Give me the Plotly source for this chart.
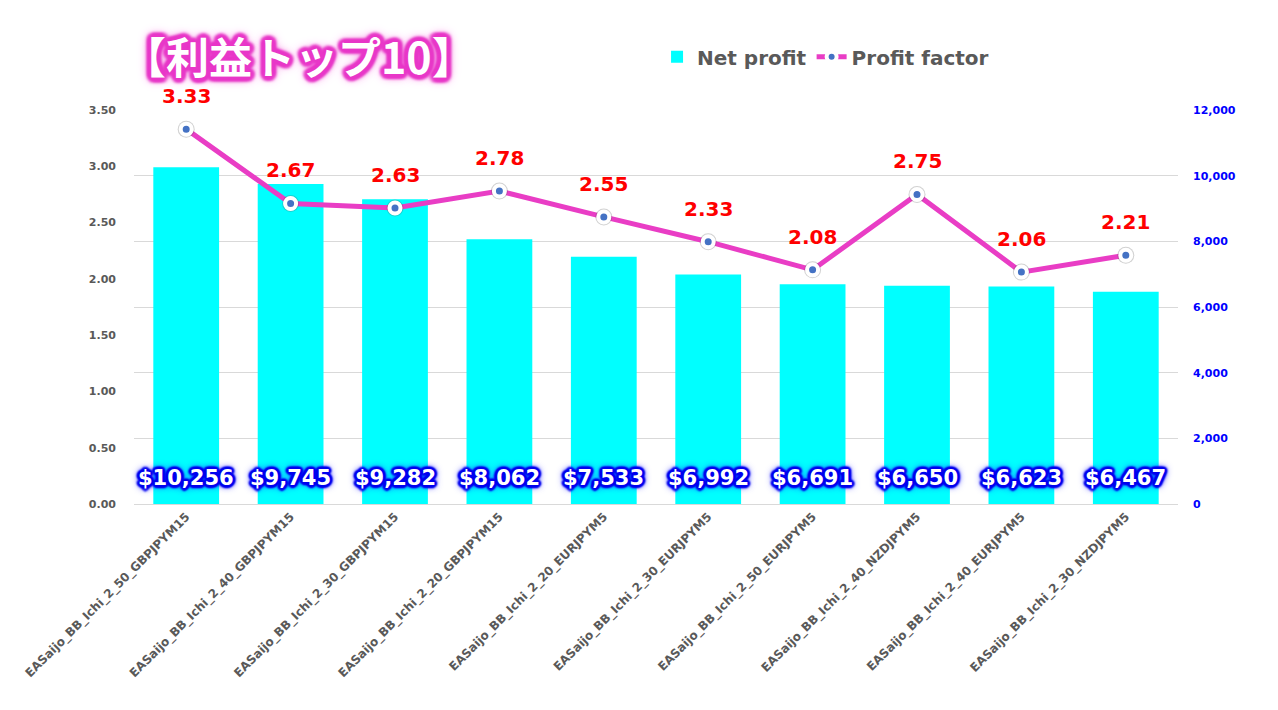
import math
import plotly.graph_objects as go

categories = [
    "EASaijo_BB_Ichi_2_50_GBPJPYM15",
    "EASaijo_BB_Ichi_2_40_GBPJPYM15",
    "EASaijo_BB_Ichi_2_30_GBPJPYM15",
    "EASaijo_BB_Ichi_2_20_GBPJPYM15",
    "EASaijo_BB_Ichi_2_20_EURJPYM5",
    "EASaijo_BB_Ichi_2_30_EURJPYM5",
    "EASaijo_BB_Ichi_2_50_EURJPYM5",
    "EASaijo_BB_Ichi_2_40_NZDJPYM5",
    "EASaijo_BB_Ichi_2_40_EURJPYM5",
    "EASaijo_BB_Ichi_2_30_NZDJPYM5",
]
net_profit = [10256, 9745, 9282, 8062, 7533, 6992, 6691, 6650, 6623, 6467]
profit_factor = [3.33, 2.67, 2.63, 2.78, 2.55, 2.33, 2.08, 2.75, 2.06, 2.21]

left_ticks = [0, 0.5, 1.0, 1.5, 2.0, 2.5, 3.0, 3.5]
right_ticks = [0, 2000, 4000, 6000, 8000, 10000, 12000]

FONT = "DejaVu Sans"
GRAY = "#595959"
PINK = "#E93DC5"


def glow(color, radius, blur, extra):
    parts = []
    for k in range(12):
        a = 2 * math.pi * k / 12
        parts.append(f"{radius*math.cos(a):.1f}px {radius*math.sin(a):.1f}px {blur}px {color}")
    parts += extra
    return ", ".join(parts)


blue_glow = glow("#0000ee", 2.5, 2, ["0 0 5px #0000ff", "0 0 7px #2222ff", "0 0 9px #5555ff"])
pink_glow = glow("#e838c8", 4, 3, ["0 0 7px #e838c8", "0 0 10px #ea48cc", "0 0 14px #f080e0"])

fig = go.Figure()
fig.add_trace(go.Bar(
    x=categories, y=net_profit, name="Net profit",
    marker=dict(color="#00FFFF", line=dict(width=0)),
    yaxis="y", hoverinfo="skip",
))
fig.add_trace(go.Scatter(
    x=categories, y=profit_factor, name="Profit factor",
    mode="lines+markers", yaxis="y2",
    line=dict(color=PINK, width=5),
    marker=dict(color="#4472C4", size=10, line=dict(color="white", width=4)),
    hoverinfo="skip",
))
# soft shadow under the markers
fig.add_trace(go.Scatter(
    x=categories, y=profit_factor, mode="markers", yaxis="y2",
    marker=dict(color="rgba(90,90,90,0.28)", size=17, line=dict(width=0)),
    showlegend=False, hoverinfo="skip",
))
fig.add_trace(go.Scatter(
    x=categories, y=profit_factor, mode="markers", yaxis="y2",
    marker=dict(color="#4472C4", size=11, line=dict(color="white", width=4)),
    showlegend=False, hoverinfo="skip",
))

annotations = []
for c, v in zip(categories, net_profit):
    annotations.append(dict(
        x=c, y=0, xref="x", yref="y", yshift=26, showarrow=False,
        text=f"${v:,}", xanchor="center", yanchor="middle",
        font=dict(family=FONT, size=21, color="white", weight="bold", shadow=blue_glow),
    ))
for c, v in zip(categories, profit_factor):
    annotations.append(dict(
        x=c, y=v, xref="x", yref="y2", yshift=33, showarrow=False,
        text=f"{v:.2f}", xanchor="center", yanchor="middle",
        font=dict(family=FONT, size=20, color="#FF0000", weight="bold"),
    ))
annotations.append(dict(
    x=-0.012, y=1.14, xref="paper", yref="paper", showarrow=False,
    text="【利益トップ10】", xanchor="left", yanchor="middle",
    font=dict(family="Noto Sans CJK JP", size=43, color="white", weight="bold",
              shadow=pink_glow),
))

fig.update_layout(
    width=1278, height=710,
    margin=dict(l=126, r=108, t=102, b=214, autoexpand=False),
    paper_bgcolor="white", plot_bgcolor="white",
    bargap=0.37,
    showlegend=True,
    legend=dict(orientation="h", x=0.501, y=1.135, xanchor="left", yanchor="middle",
                font=dict(family=FONT, size=20, color=GRAY, weight="bold"),
                itemwidth=30, bgcolor="rgba(0,0,0,0)"),
    xaxis=dict(tickangle=-45, showgrid=False, showline=True, linecolor="#d9d9d9",
               linewidth=1, ticks="", automargin=False, range=[-0.5, 9.5],
               tickfont=dict(family=FONT, size=12, color=GRAY, weight="bold")),
    yaxis=dict(side="right", range=[0, 12000], tickvals=right_ticks,
               tickformat=",d", showgrid=True, gridcolor="#d9d9d9", gridwidth=1,
               zeroline=False, showline=False, ticks="", ticklabelstandoff=14,
               automargin=False,
               tickfont=dict(family=FONT, size=11, color="#0000FF", weight="bold")),
    yaxis2=dict(side="left", overlaying="y", range=[0, 3.5], tickvals=left_ticks,
                tickformat=".2f", showgrid=False, zeroline=False, showline=False,
                ticks="", ticklabelstandoff=17, automargin=False,
                tickfont=dict(family=FONT, size=11, color=GRAY, weight="bold")),
    annotations=annotations,
)

fig.write_html("out.html")
